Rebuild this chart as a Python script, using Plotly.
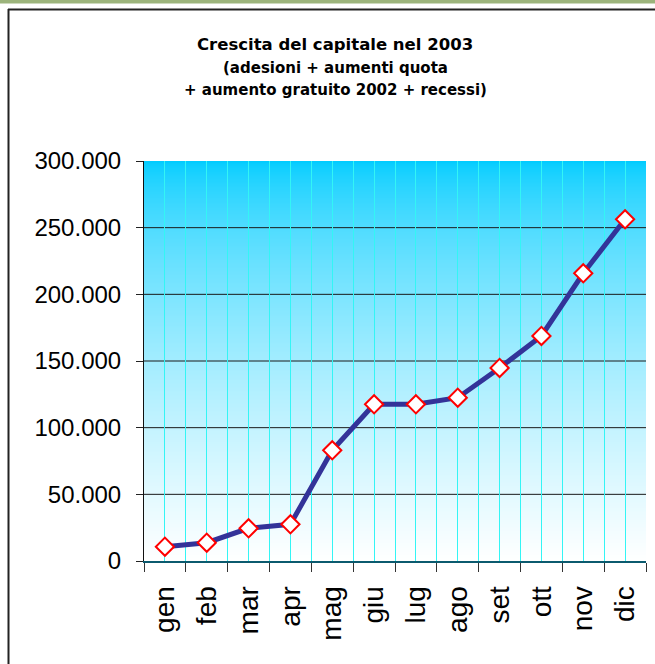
import base64
import struct
import zlib

import plotly.graph_objects as go

# ---- data ----
months = ["gen", "feb", "mar", "apr", "mag", "giu", "lug", "ago", "set", "ott", "nov", "dic"]
capital = [10700, 13700, 24500, 27500, 83000, 117500, 117500, 122500, 144800, 168800, 215800, 256300]
y_ticks = [0, 50000, 100000, 150000, 200000, 250000, 300000]

title_lines = [
    "Crescita del capitale nel 2003",
    "(adesioni + aumenti quota",
    "+ aumento gratuito 2002 + recessi)",
]

W, H = 655, 664
ML, MR, MT, MB = 144, 9, 161, 103
PW, PH = W - ML - MR, H - MT - MB


def px_x(px):
    return (px - ML) / PW


def px_y(py):
    return (H - MB - py) / PH


# ---- gradient background image (cyan at top -> white at bottom) ----
def gradient_png(n=300):
    rows = b""
    for i in range(n):
        f = 1 - i / (n - 1)  # 1 at top, 0 at bottom
        k = 1 - (1 - f) ** 0.65
        r = round(255 - 255 * k)
        g = round(255 - 51 * k)
        b = 255
        rows += b"\x00" + bytes([r, g, b])

    def chunk(tag, data):
        c = struct.pack(">I", len(data)) + tag + data
        return c + struct.pack(">I", zlib.crc32(tag + data) & 0xFFFFFFFF)

    png = b"\x89PNG\r\n\x1a\n"
    png += chunk(b"IHDR", struct.pack(">IIBBBBB", 1, n, 8, 2, 0, 0, 0))
    png += chunk(b"IDAT", zlib.compress(rows))
    png += chunk(b"IEND", b"")
    return "data:image/png;base64," + base64.b64encode(png).decode()


FONT = "Arial, 'Liberation Sans', sans-serif"
TITLE_FONT = "'DejaVu Sans', Arial, sans-serif"

x_idx = list(range(len(months)))

fig = go.Figure()
fig.add_trace(
    go.Scatter(
        x=x_idx,
        y=capital,
        mode="lines+markers",
        line=dict(color="#333399", width=5),
        marker=dict(symbol="diamond", size=14, color="white", line=dict(color="#FF0000", width=2)),
        hoverinfo="skip",
    )
)

shapes = []
# horizontal gridlines (not at the top edge)
for v in y_ticks[1:-1]:
    shapes.append(
        dict(type="line", xref="x domain", yref="y", x0=0, x1=1, y0=v, y1=v,
             line=dict(color="#1a1a1a", width=1), layer="below")
    )
# green strip at top of page
shapes.append(
    dict(type="rect", xref="paper", yref="paper", x0=px_x(0), x1=px_x(W + 5),
         y0=px_y(3.5), y1=px_y(-2), fillcolor="#9cb47c", line=dict(width=0), layer="above")
)
# chart frame (top and left edges)
shapes.append(
    dict(type="line", xref="paper", yref="paper", x0=px_x(8), x1=px_x(W + 5),
         y0=px_y(9.5), y1=px_y(9.5), line=dict(color="#222222", width=2))
)
shapes.append(
    dict(type="line", xref="paper", yref="paper", x0=px_x(8.5), x1=px_x(8.5),
         y0=px_y(9), y1=px_y(H + 5), line=dict(color="#222222", width=2))
)

annotations = []
for text, ypx, size in zip(title_lines, [44, 68, 90], [16.5, 15, 15]):
    annotations.append(
        dict(text="<b>" + text + "</b>", xref="paper", yref="paper", x=px_x(335), y=px_y(ypx),
             xanchor="center", yanchor="middle", showarrow=False,
             font=dict(family=TITLE_FONT, size=size, color="#000000"))
    )

fig.update_layout(
    width=W,
    height=H,
    margin=dict(l=ML, r=MR, t=MT, b=MB, pad=0),
    paper_bgcolor="white",
    plot_bgcolor="rgba(0,0,0,0)",
    showlegend=False,
    separators=",.",
    shapes=shapes,
    annotations=annotations,
    images=[
        dict(source=gradient_png(), xref="paper", yref="paper", x=0, y=1, sizex=1, sizey=1,
             xanchor="left", yanchor="top", sizing="stretch", layer="below")
    ],
    xaxis=dict(
        range=[-0.5, len(months) - 0.5],
        tickmode="array",
        tickvals=x_idx,
        ticktext=months,
        tickangle=-90,
        ticks="outside",
        ticklen=12,
        tickcolor="rgba(0,0,0,0)",
        showgrid=True,
        gridcolor="#33f5f5",
        gridwidth=1,
        minor=dict(tick0=-0.5, dtick=1, ticks="outside", ticklen=9, tickcolor="#333333",
                   tickwidth=1, showgrid=True, gridcolor="#33f5f5", gridwidth=1),
        showline=True,
        linecolor="#0b5a6e",
        linewidth=2,
        zeroline=False,
        tickfont=dict(family=FONT, size=28, color="#000000"),
        fixedrange=True,
    ),
    yaxis=dict(
        range=[0, 300000],
        tickmode="array",
        tickvals=y_ticks,
        tickformat=",.0f",
        ticks="outside",
        ticklen=7,
        tickcolor="#222222",
        ticklabelstandoff=10,
        showgrid=False,
        showline=True,
        linecolor="#111111",
        linewidth=1,
        zeroline=False,
        tickfont=dict(family=FONT, size=24, color="#000000"),
        fixedrange=True,
    ),
)

fig.write_html("out.html")
